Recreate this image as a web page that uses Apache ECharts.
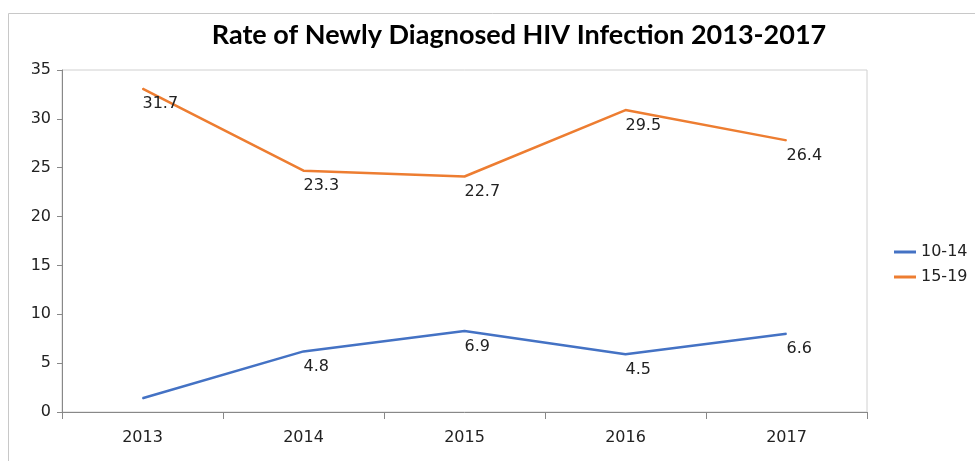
<!DOCTYPE html>
<html>
<head>
<meta charset="utf-8">
<script src="https://cdn.jsdelivr.net/npm/echarts@6/dist/echarts.min.js"></script>
<style>
  html, body { margin: 0; padding: 0; background: #fff; }
  #chart { width: 975px; height: 461px; }
</style>
</head>
<body>
<div id="chart"></div>
<script>
var years = ['2013', '2014', '2015', '2016', '2017'];
// plotted positions of the lines
var age10to14 = [1.4, 6.2, 8.3, 5.9, 8.0];
var age15to19 = [33.1, 24.7, 24.1, 30.9, 27.8];
// data labels as printed in the reference (2013 for 10-14 has none)
var labels10to14 = ['', '4.8', '6.9', '4.5', '6.6'];
var labels15to19 = ['31.7', '23.3', '22.7', '29.5', '26.4'];
var yTicks = [0, 5, 10, 15, 20, 25, 30, 35];

var chart = echarts.init(document.getElementById('chart'), null, {renderer: 'canvas'});

function makeLabel(texts) {
    return {
        show: true,
        position: 'bottom',
        distance: 7,
        align: 'left',
        color: '#222',
        fontSize: 16,
        fontFamily: 'DejaVu Sans',
        formatter: function (p) {
            return texts[p.dataIndex];
        }
    };
}

var option = {
    animation: false,
    backgroundColor: '#fff',
    title: {
        text: 'Rate of Newly Diagnosed HIV Infection 2013-2017',
        left: 514,
        textAlign: 'center',
        top: 17,
        textStyle: {
            fontFamily: 'Lato',
            fontWeight: 'bold',
            fontSize: 27,
            color: '#000'
        }
    },
    graphic: [{
        type: 'rect',
        shape: {x: 8.5, y: 13.5, width: 1100, height: 600},
        style: {fill: null, stroke: '#c8c8c8', lineWidth: 1},
        silent: true,
        z: -1
    }],
    legend: {
        orient: 'vertical',
        left: 889,
        top: 239,
        itemWidth: 22,
        itemHeight: 3,
        itemGap: 9,
        icon: 'rect',
        textStyle: {fontFamily: 'DejaVu Sans', fontSize: 16, color: '#222'},
        data: ['10-14', '15-19']
    },
    grid: {
        left: 62,
        right: 108,
        top: 70,
        bottom: 49,
        show: true,
        borderColor: '#d0d0d0',
        borderWidth: 1
    },
    xAxis: {
        type: 'category',
        data: years,
        boundaryGap: true,
        axisLine: {lineStyle: {color: '#888', width: 1}},
        axisTick: {show: true, length: 7, lineStyle: {color: '#888'}},
        axisLabel: {
            margin: 18,
            fontFamily: 'DejaVu Sans',
            fontSize: 16,
            color: '#222'
        },
        splitLine: {show: false}
    },
    yAxis: {
        type: 'value',
        min: yTicks[0],
        max: yTicks[yTicks.length - 1],
        interval: 5,
        axisLine: {show: true, lineStyle: {color: '#888', width: 1}},
        axisTick: {show: true, length: 5, lineStyle: {color: '#888'}},
        axisLabel: {
            margin: 11,
            fontFamily: 'DejaVu Sans',
            fontSize: 16,
            color: '#222'
        },
        splitLine: {show: false}
    },
    series: [{
        name: '10-14',
        type: 'line',
        data: age10to14,
        symbol: 'circle',
        symbolSize: 1,
        showSymbol: true,
        color: '#4472C4',
        lineStyle: {width: 2.5, color: '#4472C4'},
        label: makeLabel(labels10to14)
    }, {
        name: '15-19',
        type: 'line',
        data: age15to19,
        symbol: 'circle',
        symbolSize: 1,
        showSymbol: true,
        color: '#ED7D31',
        lineStyle: {width: 2.5, color: '#ED7D31'},
        label: makeLabel(labels15to19)
    }]
};

chart.setOption(option);
</script>
</body>
</html>
